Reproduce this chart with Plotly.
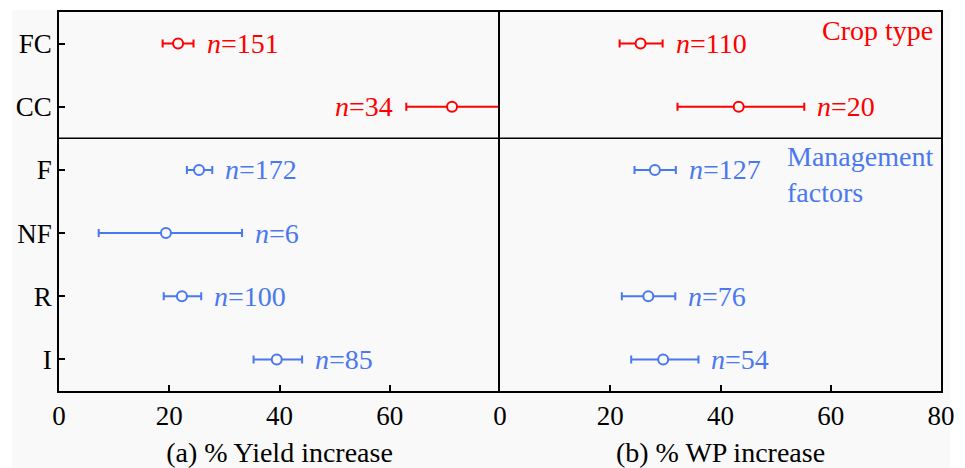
import plotly.graph_objects as go
from plotly.subplots import make_subplots

categories = ["FC", "CC", "F", "NF", "R", "I"]
group_colors = ["#ff0000", "#ff0000", "#4a78f0", "#4a78f0", "#4a78f0", "#4a78f0"]

# (a) % Yield increase
yield_mean = [21.6, 71.3, 25.4, 19.4, 22.3, 39.5]
yield_low = [18.8, 63.0, 23.2, 7.2, 19.0, 35.3]
yield_high = [24.4, 80.0, 27.8, 33.2, 25.8, 44.1]
yield_n = [151, 34, 172, 6, 100, 85]

# (b) % WP increase (no NF data)
wp_mean = [25.5, 43.3, 28.1, None, 26.9, 29.6]
wp_low = [21.7, 32.2, 24.4, None, 22.1, 23.8]
wp_high = [29.5, 55.2, 31.9, None, 31.8, 36.0]
wp_n = [110, 20, 127, None, 76, 54]

x_tick_left = [0, 20, 40, 60]
x_tick_right = [0, 20, 40, 60, 80]

BG = "#f9f9f9"
FONT = "Liberation Serif"
FS = 27
FA = 28

fig = make_subplots(rows=1, cols=2, shared_yaxes=True, horizontal_spacing=0)

annotations = []

def add_panel(col, mean, low, high, ns, xref, left_label_cats=()):
    for i, cat in enumerate(categories):
        if mean[i] is None:
            continue
        c = group_colors[i]
        fig.add_trace(go.Scatter(
            x=[mean[i]], y=[cat], mode="markers",
            marker=dict(symbol="circle", size=10, color=BG,
                        line=dict(color=c, width=2)),
            error_x=dict(type="data", symmetric=False,
                         array=[high[i] - mean[i]],
                         arrayminus=[mean[i] - low[i]],
                         color=c, thickness=2, width=4),
            showlegend=False, hoverinfo="skip"), row=1, col=col)
        if cat in left_label_cats:
            annotations.append(dict(x=low[i], y=cat, xref=xref, yref="y",
                                    text="<i>n</i>=%d" % ns[i], showarrow=False,
                                    xanchor="right", xshift=-11,
                                    font=dict(family=FONT, size=FA, color=c)))
        else:
            annotations.append(dict(x=high[i], y=cat, xref=xref, yref="y",
                                    text="<i>n</i>=%d" % ns[i], showarrow=False,
                                    xanchor="left", xshift=11,
                                    font=dict(family=FONT, size=FA, color=c)))

add_panel(1, yield_mean, yield_low, yield_high, yield_n, "x", left_label_cats=("CC",))
add_panel(2, wp_mean, wp_low, wp_high, wp_n, "x2")

annotations.append(dict(x=1, y=1, xref="x2 domain", yref="paper", text="Crop type",
                        showarrow=False, xanchor="right", yanchor="top",
                        xshift=-6, yshift=-1,
                        font=dict(family=FONT, size=FA, color="#ff0000")))
annotations.append(dict(x=(785 - 59) / 882, y=1 - (139 - 12) / 379,
                        xref="paper", yref="paper",
                        text="Management<br>factors", align="left",
                        showarrow=False, xanchor="left", yanchor="top",
                        font=dict(family=FONT, size=FA, color="#4a78f0")))

axis_common = dict(showline=True, linecolor="black", linewidth=1.5,
                   ticks="inside", ticklen=6, tickwidth=1.5, tickcolor="black",
                   showgrid=False, zeroline=False, automargin=False,
                   tickfont=dict(family=FONT, size=FS, color="black"))

fig.update_xaxes(**axis_common, mirror=True)
fig.update_yaxes(**axis_common)
fig.update_xaxes(range=[0, 80], tickvals=x_tick_left, row=1, col=1,
                 title=dict(text="(a) % Yield increase", standoff=14,
                            font=dict(family=FONT, size=FA, color="black")))
fig.update_xaxes(range=[0, 80], tickvals=x_tick_right, row=1, col=2,
                 title=dict(text="(b) % WP increase", standoff=14,
                            font=dict(family=FONT, size=FA, color="black")))
fig.update_yaxes(categoryorder="array", categoryarray=categories,
                 range=[5.5, -0.5], mirror=False, row=1, col=1)
fig.update_yaxes(ticks="", mirror=True, row=1, col=2)

shapes = [
    dict(type="rect", xref="paper", yref="paper",
         x0=(12 - 59) / 882, x1=(950 - 59) / 882,
         y0=-(468 - 391) / 379, y1=1 + 2 / 379,
         fillcolor=BG, line=dict(width=0), layer="below"),
    dict(type="line", xref="paper", yref="y", x0=0, x1=1, y0=1.5, y1=1.5,
         line=dict(color="black", width=1.5)),
]

fig.update_layout(
    width=965, height=468,
    margin=dict(l=59, r=24, t=12, b=77),
    paper_bgcolor="white", plot_bgcolor=BG,
    font=dict(family=FONT, size=FS, color="black"),
    annotations=annotations, shapes=shapes,
    showlegend=False,
)

fig.write_html("out.html", config={"displayModeBar": False},
               post_script="document.body.style.margin='0';document.body.style.padding='0';")
